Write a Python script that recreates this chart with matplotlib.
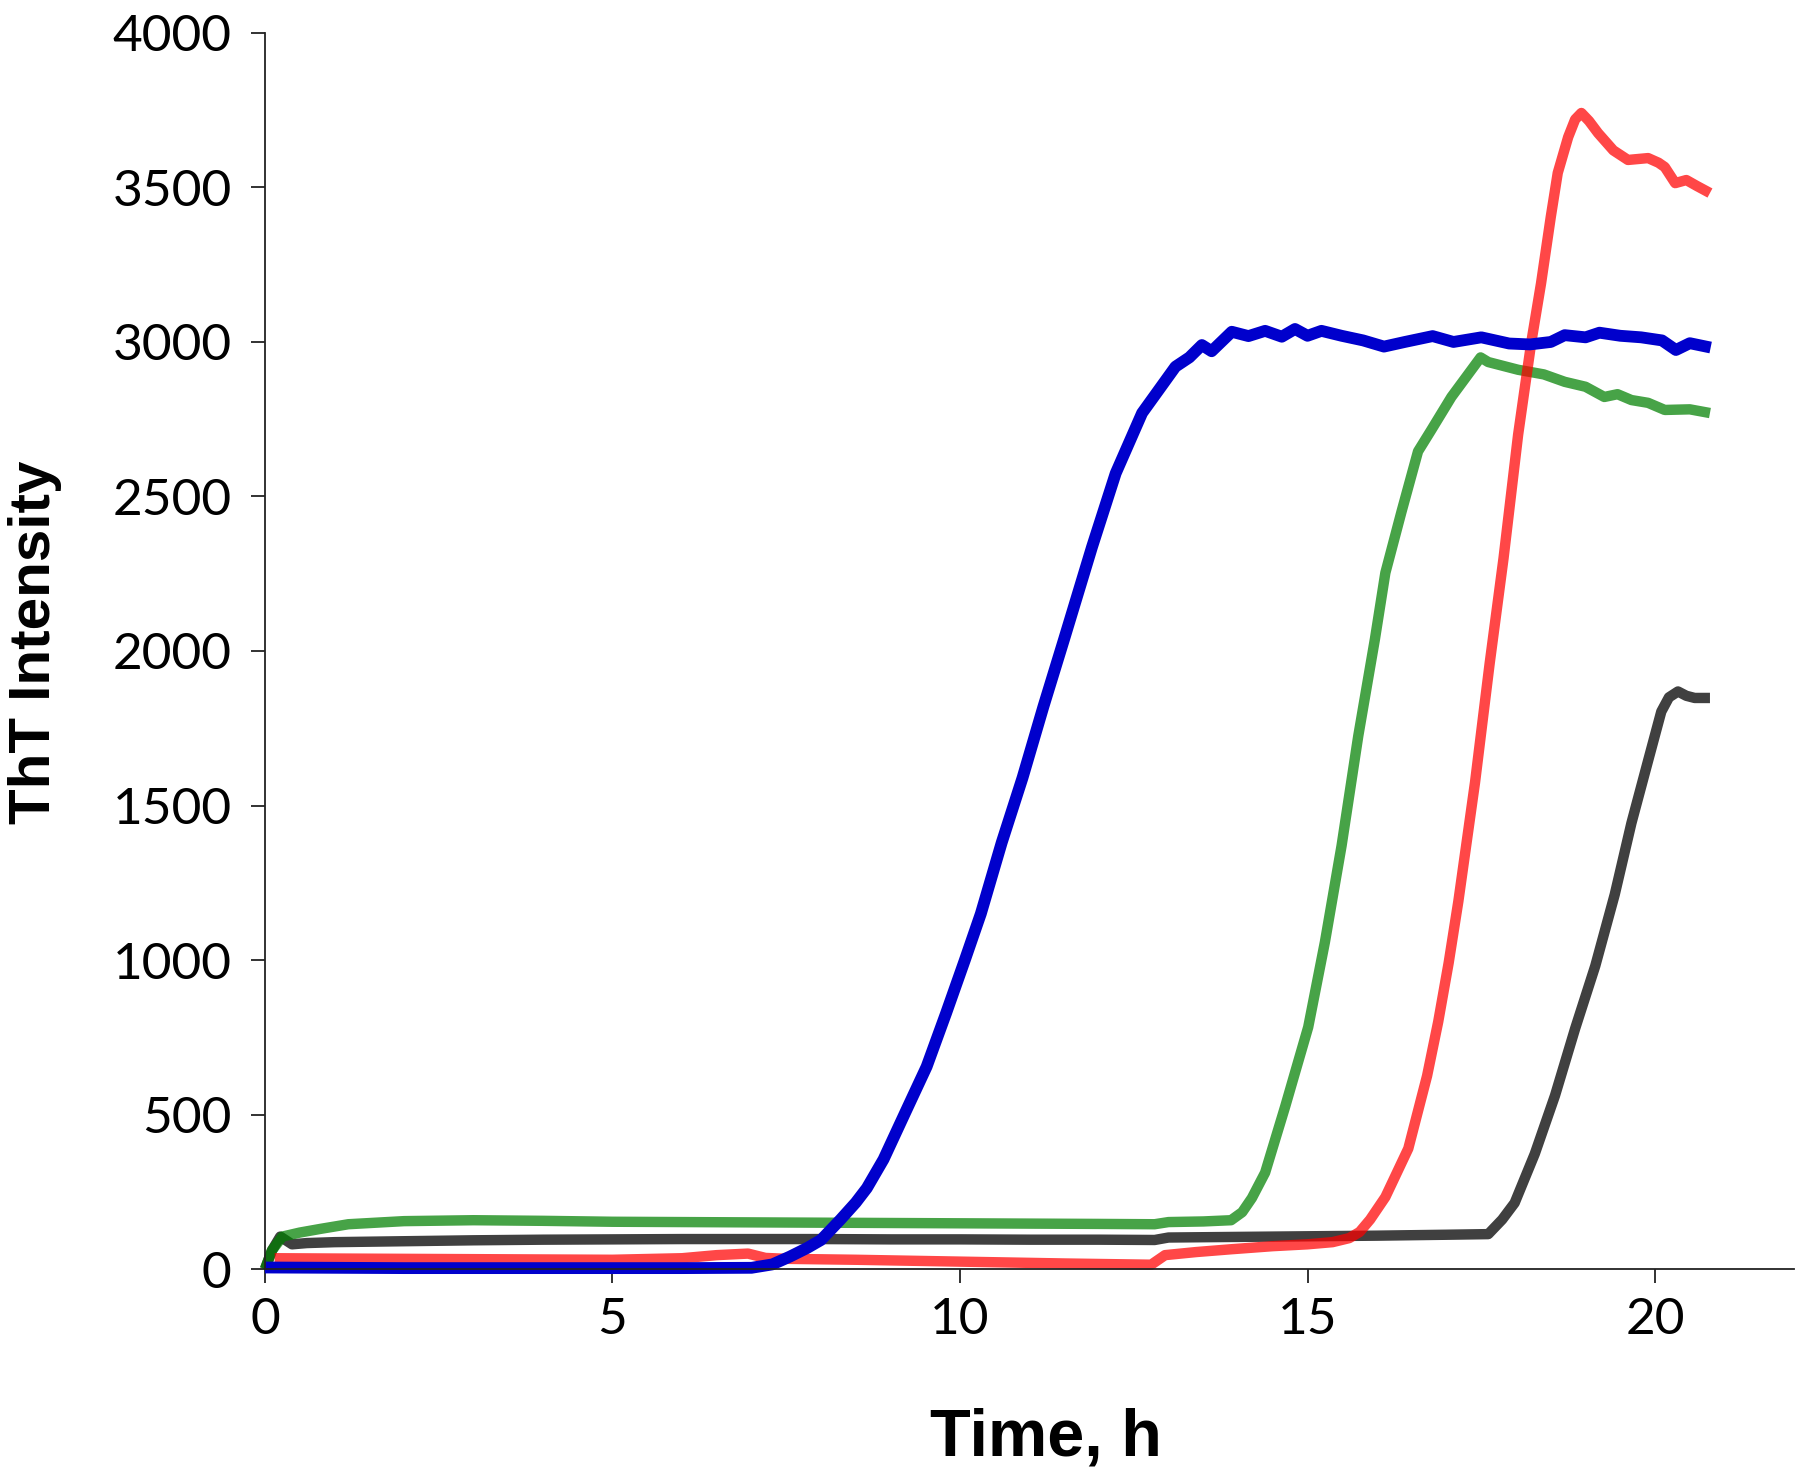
import matplotlib
matplotlib.use("Agg")
import matplotlib.pyplot as plt

# ==========================================
# data
# ==========================================
blue_t = [0.0, 1.0, 2.0, 3.0, 4.0, 5.0, 6.0, 7.0, 7.3, 7.55, 7.8, 8.0, 8.28, 8.5, 8.66, 8.9,
          9.23, 9.52, 9.8, 10.07, 10.3, 10.6, 10.9, 11.2, 11.5, 11.9, 12.24, 12.62, 13.1,
          13.3, 13.48, 13.62, 13.91, 14.15, 14.39, 14.63, 14.82, 15.0, 15.2, 15.49, 15.8,
          16.1, 16.4, 16.8, 17.1, 17.5, 17.9, 18.2, 18.5, 18.7, 19.0, 19.2, 19.5, 19.8,
          20.1, 20.3, 20.5, 20.8]
blue_v = [5, 4, 3, 3, 3, 3, 3, 4, 15, 40, 68, 94, 160, 215, 262, 355,
          515, 655, 828, 1000, 1150, 1380, 1590, 1820, 2040, 2337, 2575, 2770, 2920,
          2950, 2990, 2970, 3033, 3019, 3036, 3017, 3042, 3020, 3036, 3020, 3005,
          2985, 3000, 3019, 3000, 3015, 2995, 2992, 3000, 3022, 3015, 3030, 3020, 3015,
          3005, 2974, 2996, 2982]

green_t = [0.0, 0.1, 0.25, 0.5, 0.8, 1.2, 2.0, 3.0, 4.0, 5.0, 6.0, 7.0, 8.0, 9.0, 10.0, 11.0,
           12.0, 12.8, 13.0, 13.5, 13.9, 14.06, 14.2, 14.39, 14.68, 15.01, 15.25, 15.49, 15.73,
           15.97, 16.12, 16.35, 16.59, 16.78, 17.07, 17.49, 17.6, 18.03, 18.4, 18.7, 19.0,
           19.27, 19.46, 19.66, 19.9, 20.14, 20.5, 20.79]
green_v = [0, 60, 105, 118, 130, 145, 155, 158, 156, 153, 152, 151, 150, 149, 148, 147,
           146, 145, 152, 154, 158, 184, 230, 312, 527, 783, 1058, 1370, 1725,
           2039, 2253, 2449, 2646, 2715, 2822, 2950, 2935, 2910, 2895, 2871, 2855,
           2822, 2831, 2812, 2803, 2780, 2782, 2770]

red_t = [0.14, 1.0, 2.0, 3.0, 4.0, 5.0, 6.0, 6.5, 6.95, 7.2, 7.5, 8.5, 9.5, 10.5, 11.5, 12.75,
         12.95, 13.4, 13.9, 14.5, 15.0, 15.36, 15.6, 15.75, 15.9, 16.12, 16.45, 16.72, 16.88,
         17.03, 17.17, 17.41, 17.62, 17.82, 18.03, 18.22, 18.36, 18.5, 18.6, 18.75, 18.85,
         18.94, 19.05, 19.18, 19.4, 19.61, 19.9, 20.05, 20.14, 20.29, 20.45, 20.6, 20.79]
red_v = [35, 34, 33, 32, 31, 30, 35, 45, 50, 36, 33, 30, 26, 22, 18, 14,
         45, 55, 64, 74, 80, 87, 100, 120, 160, 233, 390, 625, 800,
         990, 1190, 1575, 1959, 2300, 2700, 3000, 3190, 3405, 3547, 3663, 3720,
         3741, 3715, 3676, 3620, 3589, 3595, 3580, 3566, 3514, 3524, 3505, 3482]

black_t = [0.0, 0.1, 0.22, 0.39, 0.6, 1.0, 2.0, 3.0, 4.0, 5.0, 6.0, 7.0, 8.0, 9.0, 10.0, 11.0,
           12.0, 12.8, 13.0, 14.0, 15.0, 16.0, 17.0, 17.6, 17.8, 17.98, 18.27, 18.56, 18.85,
           19.14, 19.42, 19.66, 19.9, 20.09, 20.2, 20.33, 20.45, 20.57, 20.79]
black_v = [0, 60, 105, 80, 84, 87, 90, 93, 95, 96, 97, 97, 97, 96, 96, 95,
           95, 94, 102, 104, 106, 108, 111, 113, 160, 214, 373, 561, 778,
           981, 1212, 1443, 1645, 1804, 1850, 1869, 1855, 1848, 1848]

x_ticks = [0, 5, 10, 15, 20]
y_ticks = [0, 500, 1000, 1500, 2000, 2500, 3000, 3500, 4000]

# ==========================================
# figure
# ==========================================
plt.rcParams['font.family'] = ['Lato', 'DejaVu Sans']

fig = plt.figure(figsize=(18, 14.77), dpi=100)
ax = fig.add_axes([0.1472, 0.1408, 0.8495, 0.8369])

line_kw = dict(clip_on=False, solid_capstyle='butt', solid_joinstyle='round')
ax.plot(black_t, black_v, color='black', alpha=0.75, lw=7.5, **line_kw)
ax.plot(green_t, green_v, color='#008000', alpha=0.72, lw=7.5, **line_kw)
ax.plot(red_t, red_v, color='#ff0000', alpha=0.72, lw=7.5, **line_kw)
ax.plot(blue_t, blue_v, color='#0000cc', lw=8.5, **line_kw)

ax.set_xlim(0, 22)
ax.set_ylim(0, 4000)
ax.set_xticks(x_ticks)
ax.set_yticks(y_ticks)

for s in ['top', 'right']:
    ax.spines[s].set_visible(False)
for s in ['left', 'bottom']:
    ax.spines[s].set_linewidth(1.3)
    ax.spines[s].set_color('#222222')

ax.tick_params(axis='both', direction='out', length=10, width=1.3, color='#222222',
               labelsize=37)
ax.tick_params(axis='x', pad=10)
ax.tick_params(axis='y', pad=14)

ax.set_xlabel('Time, h', fontsize=48, fontweight='bold', family=['Liberation Sans', 'DejaVu Sans'])
ax.set_ylabel('ThT Intensity', fontsize=42, fontweight='bold', family=['Liberation Sans', 'DejaVu Sans'])
ax.xaxis.set_label_coords(0.511, -0.112)
ax.yaxis.set_label_coords(-0.133, 0.507)

fig.savefig('out.png', dpi=100)
